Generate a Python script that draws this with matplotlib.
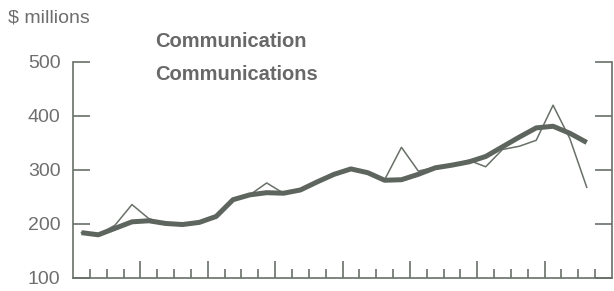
import matplotlib.pyplot as plt
import numpy as np

# ---- data (quarterly) ----
quarter = np.arange(31) + 0.5
communication = [184, 180, 198, 236, 210, 200, 199, 203, 215, 247,
                 254, 276, 257, 262, 279, 293, 302, 294, 282, 342,
                 298, 305, 310, 318, 306, 338, 344, 355, 420, 358, 268]
communications = [184, 180, 192, 204, 206, 201, 199, 203, 214, 245,
                  254, 258, 257, 263, 278, 292, 302, 295, 281, 282,
                  292, 304, 309, 315, 325, 343, 361, 378, 381, 368, 351]
y_ticks = [100, 200, 300, 400, 500]

grey = '#687068'
txt = '#6e6e6e'

plt.rcParams['font.family'] = ['Liberation Sans', 'DejaVu Sans']

fig = plt.figure(figsize=(6.14, 2.91), dpi=100)
ax = fig.add_axes([73/614, 13/291, 539/614, 216/291])

ax.plot(quarter, communication, color=grey, lw=1.1)
ax.plot(quarter, communications, color='#5e655e', lw=3.6,
        solid_capstyle='butt', solid_joinstyle='round')

ax.set_xlim(0, 32)
ax.set_ylim(100, 500)

# spines
ax.spines['top'].set_visible(False)
for s in ['left', 'right', 'bottom']:
    ax.spines[s].set_color(grey)
    ax.spines[s].set_linewidth(1.2)

# y ticks on both sides, pointing in
ax.set_yticks(y_ticks)
ax.tick_params(axis='y', direction='in', length=12, width=1.2, color=grey,
               labelsize=14, labelcolor=txt, pad=9, right=True)

# x ticks: long every 4th quarter, short otherwise
ax.set_xticks([4, 8, 12, 16, 20, 24, 28])
ax.set_xticks([t for t in range(1, 32) if t % 4 != 0], minor=True)
ax.tick_params(axis='x', which='major', direction='in', length=12, width=1.2,
               color=grey, labelbottom=False)
ax.tick_params(axis='x', which='minor', direction='in', length=6.5, width=1.2,
               color=grey)

# text labels
fig.text(8/614, 1 - 18/291, '$ millions', fontsize=14, color=txt,
         ha='left', va='center')
fig.text(155/614, 1 - 42/291, 'Communication', fontsize=14.5, color='#686868',
         ha='left', va='center', weight='bold')
fig.text(155/614, 1 - 74/291, 'Communications', fontsize=14.5, color='#686868',
         ha='left', va='center', weight='bold')

fig.savefig('out.png', dpi=100)
